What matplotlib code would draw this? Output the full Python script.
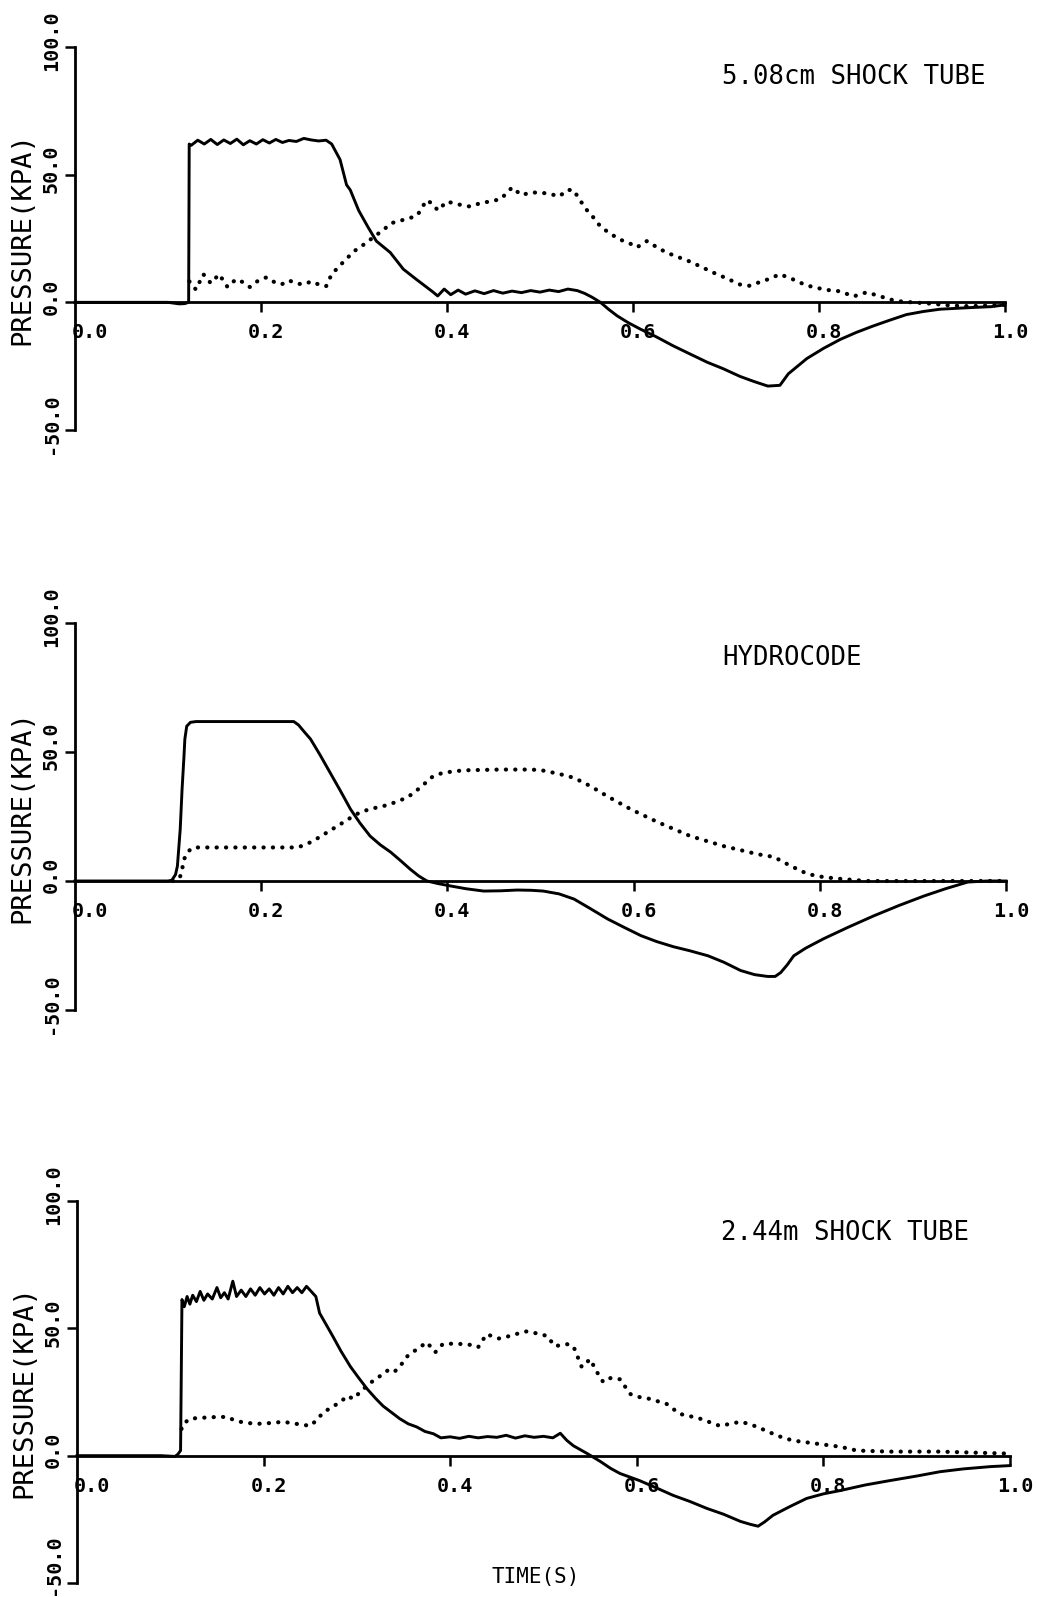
import matplotlib
matplotlib.use("Agg")
import matplotlib.pyplot as plt
from matplotlib.transforms import ScaledTranslation

# ---------------- data ----------------
titles = ["5.08cm SHOCK TUBE", "HYDROCODE", "2.44m SHOCK TUBE"]
x_ticks = [0.0, 0.2, 0.4, 0.6, 0.8, 1.0]
x_tick_labels = ["0.0", "0.2", "0.4", "0.6", "0.8", "1.0"]
y_ticks = [-50, 0, 50, 100]
y_tick_labels = ["-50.0", "0.0", "50.0", "100.0"]

# Panel 1: 5.08cm shock tube
p1_solid_t = [0.0, 0.10, 0.112, 0.118, 0.1222, 0.1228,
              0.125, 0.132, 0.139, 0.146, 0.153, 0.160, 0.167, 0.174, 0.181, 0.188,
              0.195, 0.202, 0.209, 0.216, 0.223, 0.230, 0.238, 0.246, 0.254, 0.262,
              0.270, 0.276, 0.285, 0.292, 0.296, 0.305, 0.315, 0.324, 0.339, 0.353,
              0.367, 0.384, 0.390, 0.397, 0.404, 0.412, 0.420, 0.430, 0.440, 0.450,
              0.460, 0.470, 0.480, 0.490, 0.500, 0.510, 0.520, 0.530, 0.540, 0.548,
              0.556, 0.565, 0.574, 0.583, 0.595, 0.608, 0.625, 0.643, 0.660, 0.680,
              0.697, 0.715, 0.730, 0.745, 0.758, 0.762, 0.767, 0.777, 0.787, 0.805,
              0.823, 0.840, 0.858, 0.876, 0.894, 0.912, 0.930, 0.950, 0.966, 0.985, 1.0]
p1_solid_p = [0.0, 0.0, -0.6, -0.5, 0.0, 62.0,
              61.5, 63.5, 62.0, 63.8, 61.8, 63.6, 62.2, 63.9, 61.7, 63.3,
              62.0, 63.7, 62.4, 63.8, 62.6, 63.4, 63.0, 64.2, 63.6, 63.2,
              63.5, 62.0, 55.9, 46.0, 44.0, 36.0, 29.5, 24.0, 19.5, 13.0,
              9.0, 4.3, 2.5, 5.2, 3.0, 4.8, 3.2, 4.5, 3.4, 4.6,
              3.6, 4.4, 3.8, 4.6, 4.0, 4.8, 4.2, 5.2, 4.6, 3.5,
              2.0, 0.0, -2.8, -5.3, -8.0, -10.5, -13.5, -17.0, -20.0, -23.5,
              -26.0, -29.0, -31.0, -32.8, -32.5, -30.5, -28.0, -25.0, -22.0, -18.0,
              -14.5, -11.8, -9.3, -7.0, -4.8, -3.6, -2.7, -2.3, -2.0, -1.7, -1.0]
p1_dot_t = [0.123, 0.130, 0.138, 0.146, 0.155, 0.164, 0.173, 0.180, 0.188, 0.197,
            0.206, 0.214, 0.222, 0.230, 0.238, 0.246, 0.254, 0.262, 0.270, 0.276,
            0.288, 0.300, 0.310, 0.322, 0.332, 0.340, 0.350, 0.360, 0.368, 0.378,
            0.385, 0.390, 0.400, 0.410, 0.425, 0.437, 0.447, 0.458, 0.470, 0.480,
            0.490, 0.500, 0.510, 0.521, 0.529, 0.536, 0.543, 0.550, 0.558, 0.565,
            0.575, 0.586, 0.597, 0.604, 0.615, 0.626, 0.636, 0.648, 0.661, 0.674,
            0.686, 0.700, 0.715, 0.725, 0.733, 0.745, 0.758, 0.765, 0.772, 0.783,
            0.794, 0.810, 0.823, 0.837, 0.851, 0.860, 0.869, 0.878, 0.887, 0.900,
            0.920, 0.940, 0.960, 0.980, 1.0]
p1_dot_p = [8.2, 5.0, 11.0, 7.5, 11.0, 6.0, 9.0, 8.0, 6.0, 8.5,
            9.8, 8.0, 7.0, 8.6, 7.4, 7.0, 8.2, 7.0, 6.3, 11.0,
            15.6, 20.0, 22.5, 25.8, 28.5, 31.0, 32.0, 33.0, 34.0, 40.0,
            38.5, 36.0, 39.5, 38.5, 37.5, 39.0, 39.5, 40.5, 45.0, 42.0,
            43.0, 43.0, 42.5, 41.5, 44.0, 44.0, 40.0, 36.3, 33.0, 29.7,
            27.0, 24.6, 23.0, 21.5, 24.0, 21.5, 19.5, 17.8, 16.0, 13.8,
            11.7, 9.5, 7.0, 6.5, 7.5, 9.0, 11.0, 10.0, 9.0, 7.2,
            5.9, 4.8, 4.3, 2.3, 3.9, 3.0, 2.0, 1.0, 0.4, 0.0,
            -0.5, -1.2, -1.5, -1.3, -1.0]

# Panel 2: hydrocode
p2_solid_t = [0.0, 0.100, 0.104, 0.108, 0.110, 0.113, 0.115, 0.117, 0.118, 0.120,
              0.124, 0.130, 0.200, 0.235, 0.240, 0.247, 0.253, 0.263, 0.274, 0.285,
              0.296, 0.306, 0.317, 0.328, 0.339, 0.350, 0.360, 0.369, 0.378, 0.390,
              0.403, 0.420, 0.439, 0.457, 0.475, 0.490, 0.503, 0.520, 0.536, 0.554,
              0.572, 0.590, 0.608, 0.625, 0.643, 0.660, 0.680, 0.697, 0.715, 0.730,
              0.744, 0.752, 0.758, 0.765, 0.772, 0.785, 0.804, 0.830, 0.858, 0.885,
              0.912, 0.935, 0.959, 0.980, 1.0]
p2_solid_p = [0.0, 0.0, 0.3, 2.5, 5.8, 20.0, 35.5, 48.0, 55.0, 60.0,
              61.5, 61.8, 61.8, 61.8, 60.5, 57.5, 55.0, 49.0, 42.0, 35.0,
              27.8, 22.5, 17.4, 14.0, 11.2, 7.8, 4.6, 2.0, 0.0, -1.0,
              -1.9, -3.0, -3.9, -3.8, -3.5, -3.6, -3.9, -5.0, -7.0, -10.8,
              -14.7, -18.0, -21.2, -23.5, -25.5, -27.0, -29.0, -31.5, -34.7, -36.3,
              -37.0, -37.0, -35.5, -32.5, -29.0, -26.0, -22.4, -18.0, -13.5, -9.5,
              -5.8, -3.0, -0.4, 0.0, 0.0]
p2_dot_t = [0.105, 0.112, 0.115, 0.116, 0.119, 0.122, 0.127, 0.180, 0.239, 0.249,
            0.258, 0.267, 0.276, 0.285, 0.296, 0.306, 0.318, 0.331, 0.344, 0.357,
            0.365, 0.371, 0.377, 0.382, 0.389, 0.396, 0.417, 0.457, 0.489, 0.500,
            0.507, 0.520, 0.536, 0.554, 0.572, 0.597, 0.626, 0.661, 0.697, 0.733,
            0.751, 0.760, 0.769, 0.787, 0.804, 0.823, 0.850, 1.0]
p2_dot_p = [0.0, 1.0, 3.5, 7.3, 10.0, 11.6, 13.0, 13.0, 13.0, 14.3,
            16.0, 18.0, 20.0, 22.0, 24.5, 26.6, 28.0, 29.0, 30.5, 32.4,
            34.5, 36.3, 38.2, 40.0, 41.2, 42.0, 42.9, 43.2, 43.2, 43.0,
            42.5, 41.5, 40.0, 36.7, 32.8, 27.8, 22.8, 17.4, 13.5, 10.4,
            9.3, 7.5, 5.8, 2.7, 1.5, 0.8, 0.0, 0.0]

# Panel 3: 2.44m shock tube
p3_solid_t = [0.0, 0.090, 0.105, 0.108, 0.111, 0.1125,
              0.115, 0.118, 0.121, 0.124, 0.128, 0.132, 0.136, 0.140, 0.145, 0.150,
              0.154, 0.158, 0.162, 0.167, 0.171, 0.176, 0.181, 0.186, 0.191, 0.196,
              0.201, 0.206, 0.211, 0.216, 0.221, 0.226, 0.231, 0.236, 0.241, 0.246,
              0.251, 0.256, 0.260, 0.267, 0.274, 0.283, 0.293, 0.302, 0.311, 0.320,
              0.328, 0.337, 0.346, 0.355, 0.364, 0.373, 0.382, 0.390, 0.400, 0.410,
              0.420, 0.430, 0.440, 0.450, 0.460, 0.470, 0.480, 0.490, 0.500, 0.510,
              0.518, 0.525, 0.532, 0.547, 0.561, 0.572, 0.582, 0.603, 0.620, 0.639,
              0.657, 0.675, 0.693, 0.711, 0.722, 0.730, 0.737, 0.746, 0.764, 0.782,
              0.800, 0.818, 0.845, 0.871, 0.900, 0.925, 0.950, 0.979, 1.0]
p3_solid_p = [0.0, 0.0, -0.3, 0.5, 2.0, 61.3,
              58.5, 62.5, 59.5, 63.0, 60.5, 64.5, 61.0, 63.5, 61.5, 66.0,
              62.0, 64.0, 61.5, 68.5, 62.5, 65.0, 62.5, 65.5, 63.0, 66.0,
              63.5, 65.5, 63.0, 66.0, 63.5, 66.5, 64.0, 66.0, 64.0, 66.5,
              64.5, 62.5, 56.0, 51.5, 47.0, 41.0, 35.0, 30.5, 26.2, 22.5,
              19.5, 17.0, 14.5, 12.5, 11.3, 9.5, 8.6, 7.0, 7.4, 6.8,
              7.6, 7.0, 7.5, 7.2, 8.0, 6.9, 7.8, 7.2, 7.6, 7.0,
              8.8, 6.0, 3.9, 0.8, -2.3, -5.0, -7.0, -9.8, -12.5, -15.6,
              -18.0, -20.7, -23.0, -25.8, -27.0, -27.7, -26.0, -23.4, -20.0, -16.8,
              -15.0, -13.7, -11.5, -9.8, -8.0, -6.3, -5.2, -4.3, -3.9]
p3_dot_t = [0.112, 0.114, 0.121, 0.130, 0.140, 0.150, 0.161, 0.168, 0.175, 0.184,
            0.193, 0.207, 0.221, 0.235, 0.250, 0.257, 0.264, 0.273, 0.282, 0.290,
            0.296, 0.307, 0.316, 0.325, 0.335, 0.341, 0.348, 0.354, 0.365, 0.375,
            0.384, 0.392, 0.403, 0.414, 0.422, 0.430, 0.439, 0.452, 0.464, 0.473,
            0.482, 0.493, 0.504, 0.512, 0.525, 0.532, 0.541, 0.550, 0.557, 0.564,
            0.572, 0.582, 0.593, 0.603, 0.614, 0.632, 0.646, 0.657, 0.668, 0.689,
            0.700, 0.711, 0.720, 0.729, 0.746, 0.757, 0.768, 0.793, 0.818, 0.836,
            0.871, 0.925, 0.960, 1.0]
p3_dot_p = [10.5, 12.5, 14.5, 14.8, 15.0, 15.2, 15.2, 14.0, 13.3, 12.8,
            12.5, 12.8, 13.3, 12.5, 11.7, 14.0, 17.0, 19.0, 21.0, 23.5,
            22.3, 26.2, 29.0, 31.3, 34.0, 33.2, 36.0, 39.0, 42.0, 44.5,
            40.6, 43.8, 44.0, 43.8, 43.5, 42.6, 47.7, 46.0, 47.0, 48.0,
            48.8, 48.0, 47.0, 43.0, 43.8, 43.0, 34.8, 37.9, 33.0, 28.9,
            30.5, 30.0, 24.2, 23.0, 22.3, 20.3, 16.4, 15.5, 14.5, 11.7,
            12.5, 13.3, 12.5, 11.3, 8.6, 7.0, 5.9, 4.7, 3.5, 2.0,
            1.6, 1.6, 1.2, 0.8]

panels = [
    (p1_solid_t, p1_solid_p, p1_dot_t, p1_dot_p),
    (p2_solid_t, p2_solid_p, p2_dot_t, p2_dot_p),
    (p3_solid_t, p3_solid_p, p3_dot_t, p3_dot_p),
]

# ---------------- layout ----------------
W, H = 1037, 1597
fig = plt.figure(figsize=(W / 100, H / 100), dpi=100)
# axes boxes in pixels: (left, right, top, bottom)
boxes = [(75, 1005, 47, 430), (75, 1006, 623, 1010), (77, 1010, 1201, 1583)]
title_pos = [(0.696, 88.3), (0.695, 86.5), (0.690, 87.5)]

MONO = ["DejaVu Sans Mono"]
LW = 2.1

for i, ((st, sp, dt, dp), (l, r, t, b)) in enumerate(zip(panels, boxes)):
    ax = fig.add_axes([l / W, 1 - b / H, (r - l) / W, (b - t) / H])
    ax.set_xlim(0, 1.0)
    ax.set_ylim(-50, 100)
    ax.plot(st, sp, color="black", lw=LW, solid_joinstyle="round", clip_on=False)
    ax.plot(dt, dp, color="black", lw=3.0, linestyle=(0, (0.05, 2.2)),
            dash_capstyle="round", clip_on=False)

    for s in ("top", "right"):
        ax.spines[s].set_visible(False)
    ax.spines["bottom"].set_position(("data", 0))
    ax.spines["left"].set_linewidth(2.0)
    ax.spines["bottom"].set_linewidth(2.0)

    ax.set_xticks(x_ticks)
    ax.set_xticklabels(x_tick_labels, family=MONO, fontsize=14.5, fontweight="bold")
    ax.set_yticks(y_ticks)
    ax.set_yticklabels(y_tick_labels, family=MONO, fontsize=14.5, fontweight="bold",
                       rotation=90, va="center", ha="right")
    ax.tick_params(axis="x", direction="out", length=7, width=1.8, pad=8)
    ax.tick_params(axis="y", direction="out", length=7, width=1.8, pad=3)
    ax.xaxis.get_major_ticks()[0].tick1line.set_visible(False)

    shift_x = ScaledTranslation(5 / 100, 0, fig.dpi_scale_trans)
    for k, lab in enumerate(ax.get_xticklabels()):
        if k == 0:
            lab.set_ha("left")
            lab.set_transform(lab.get_transform() + ScaledTranslation(-3 / 100, 0, fig.dpi_scale_trans))
        else:
            lab.set_transform(lab.get_transform() + shift_x)
    for k, lab in enumerate(ax.get_yticklabels()):
        dy = 6
        if i == 2 and k == 0:
            dy = 18  # keep the bottom label inside the figure
        lab.set_transform(lab.get_transform() + ScaledTranslation(0, dy / 100, fig.dpi_scale_trans))

    ax.set_ylabel("PRESSURE(KPA)", family=MONO, fontsize=19.5)
    ax.yaxis.set_label_coords(-0.043, 0.5)

    tx, ty = title_pos[i]
    ax.text(tx, ty, titles[i], family=MONO, fontsize=18.5, ha="left", va="center")

fig.text(536 / W, 1 - 1577 / H, "TIME(S)", family=MONO, fontsize=15,
         ha="center", va="center")

fig.savefig("out.png", dpi=100, facecolor="white")
